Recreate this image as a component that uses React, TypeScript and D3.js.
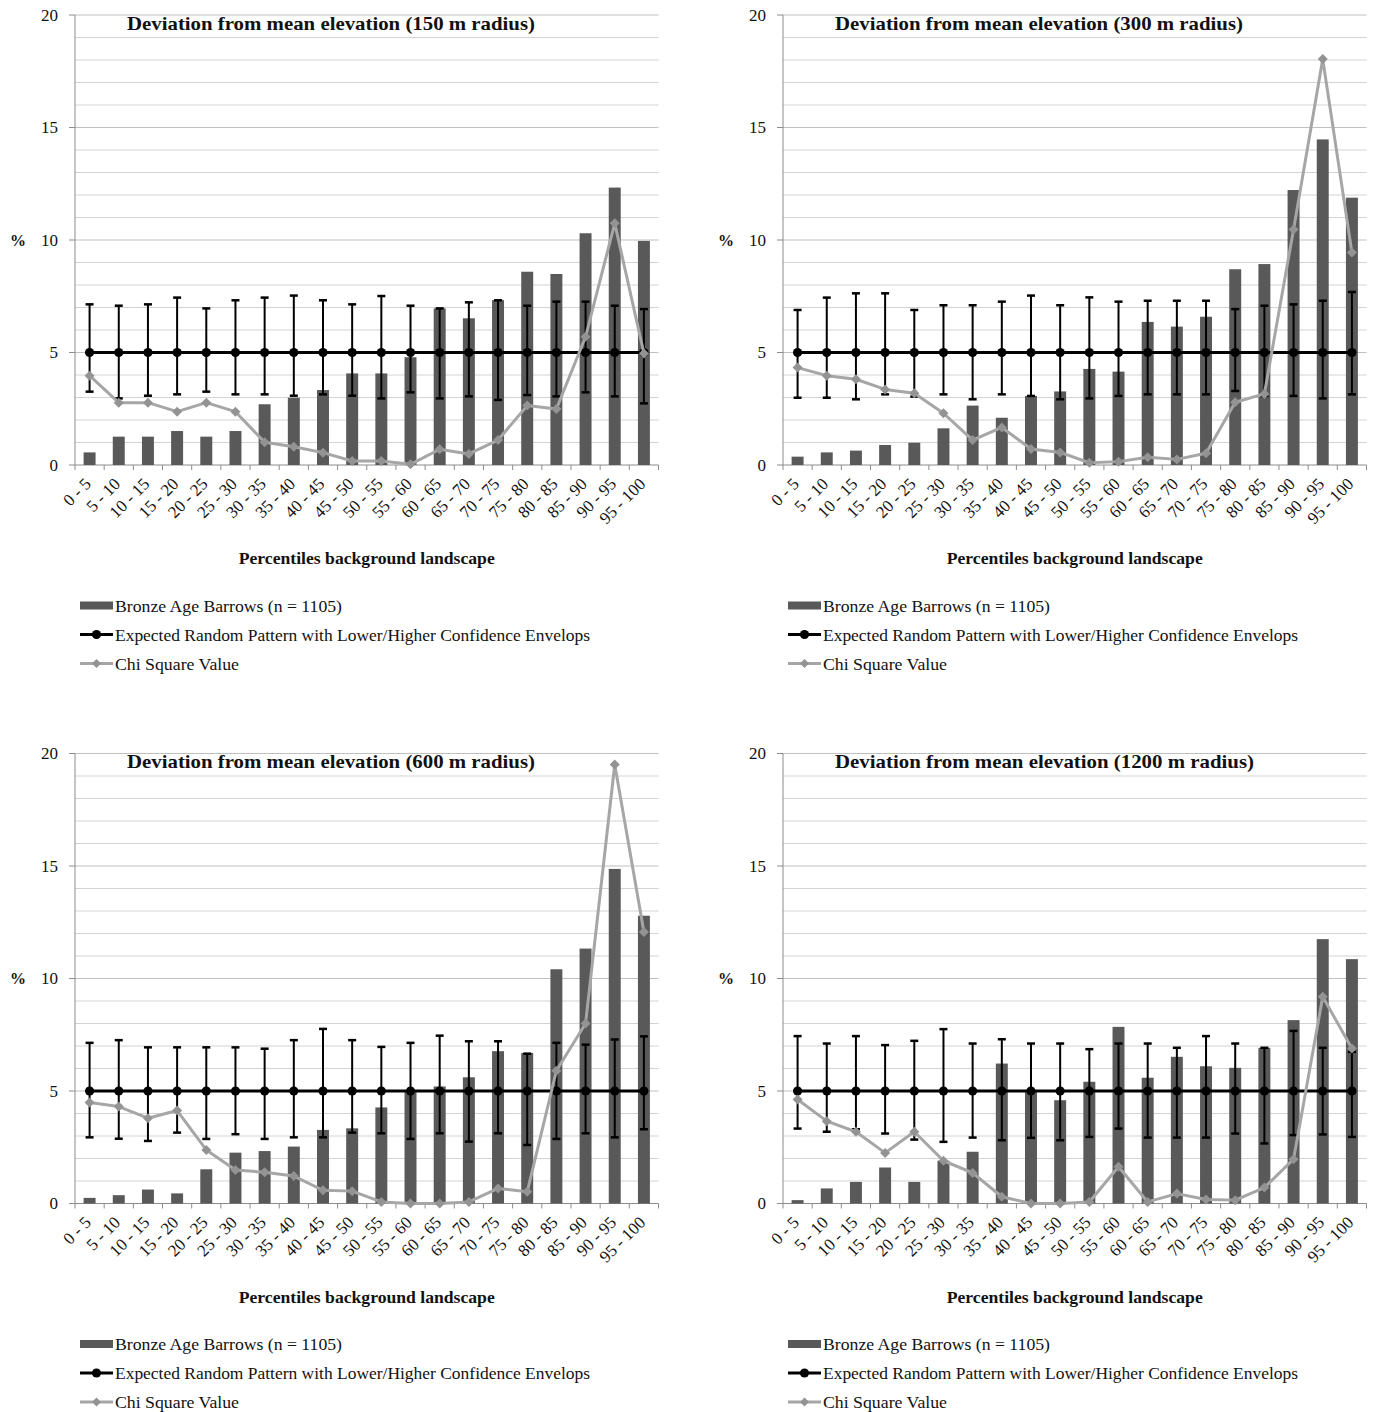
import React from 'react';
import * as d3 from 'd3';

const categories = [
  '0 - 5', '5 - 10', '10 - 15', '15 - 20', '20 - 25', '25 - 30', '30 - 35', '35 - 40', '40 - 45', '45 - 50',
  '50 - 55', '55 - 60', '60 - 65', '65 - 70', '70 - 75', '75 - 80', '80 - 85', '85 - 90', '90 - 95', '95 - 100',
];
const expected = [5, 5, 5, 5, 5, 5, 5, 5, 5, 5, 5, 5, 5, 5, 5, 5, 5, 5, 5, 5];
const yTicks = [0, 5, 10, 15, 20];

const titles = [
  'Deviation from mean elevation (150 m radius)',
  'Deviation from mean elevation (300 m radius)',
  'Deviation from mean elevation (600 m radius)',
  'Deviation from mean elevation (1200 m radius)',
];
const xAxisTitle = 'Percentiles background landscape';
const yAxisTitle = '%';
const legendLabels = [
  'Bronze Age Barrows (n = 1105)',
  'Expected Random Pattern with Lower/Higher Confidence Envelops',
  'Chi Square Value',
];

// 150 m radius
const bars150 = [0.56, 1.26, 1.26, 1.51, 1.26, 1.51, 2.7, 2.99, 3.33, 4.07, 4.07, 4.79, 6.96, 6.52, 7.33, 8.59, 8.49, 10.3, 12.33, 9.96];
const upper150 = [7.14, 7.08, 7.14, 7.44, 6.96, 7.32, 7.44, 7.53, 7.32, 7.14, 7.51, 7.08, 6.96, 7.23, 7.32, 7.08, 7.26, 7.26, 7.08, 6.93];
const lower150 = [3.26, 2.96, 3.08, 3.14, 3.26, 3.14, 3.14, 3.08, 3.14, 3.08, 2.96, 3.23, 2.96, 3.05, 2.89, 3.11, 3.05, 3.23, 3.05, 2.74];
const chi150 = [3.97, 2.77, 2.77, 2.37, 2.77, 2.37, 1.01, 0.81, 0.55, 0.18, 0.18, 0.03, 0.7, 0.49, 1.11, 2.64, 2.49, 5.7, 10.74, 4.96];

// 300 m radius
const bars300 = [0.37, 0.56, 0.64, 0.89, 0.99, 1.63, 2.64, 2.1, 3.07, 3.27, 4.27, 4.15, 6.36, 6.15, 6.59, 8.7, 8.93, 12.22, 14.47, 11.88];
const upper300 = [6.89, 7.44, 7.63, 7.63, 6.89, 7.1, 7.1, 7.26, 7.53, 7.1, 7.45, 7.26, 7.3, 7.3, 7.3, 6.93, 7.08, 7.14, 7.3, 7.69];
const lower300 = [2.99, 2.99, 2.92, 3.14, 3.04, 3.14, 2.92, 3.14, 3.07, 2.92, 2.96, 3.07, 3.14, 3.14, 3.14, 3.29, 3.07, 3.07, 2.96, 3.14];
const chi300 = [4.33, 3.97, 3.81, 3.36, 3.19, 2.3, 1.11, 1.67, 0.71, 0.56, 0.1, 0.15, 0.34, 0.25, 0.52, 2.79, 3.16, 10.47, 18.04, 9.44];

// 600 m radius
const bars600 = [0.25, 0.37, 0.62, 0.45, 1.52, 2.26, 2.33, 2.53, 3.27, 3.34, 4.27, 5.0, 5.2, 5.61, 6.77, 6.69, 10.41, 11.33, 14.87, 12.79];
const upper600 = [7.14, 7.26, 6.94, 6.94, 6.94, 6.94, 6.88, 7.26, 7.76, 7.26, 6.96, 7.14, 7.46, 7.21, 7.21, 6.66, 7.14, 7.06, 7.29, 7.43];
const lower600 = [2.94, 2.88, 2.78, 3.15, 2.87, 3.08, 2.87, 2.94, 2.94, 3.15, 3.12, 2.87, 3.12, 2.75, 3.12, 2.6, 2.87, 3.12, 2.94, 3.3];
const chi600 = [4.49, 4.31, 3.79, 4.13, 2.38, 1.49, 1.39, 1.22, 0.59, 0.55, 0.07, 0.0, 0.0, 0.07, 0.67, 0.52, 5.9, 8.0, 19.51, 12.07];

// 1200 m radius
const bars1200 = [0.15, 0.67, 0.96, 1.6, 0.96, 1.9, 2.3, 6.22, 4.95, 4.59, 5.41, 7.85, 5.59, 6.52, 6.1, 6.03, 6.92, 8.15, 11.75, 10.86];
const upper1200 = [7.44, 7.11, 7.44, 7.04, 7.23, 7.75, 7.11, 7.3, 7.11, 7.11, 6.86, 7.11, 7.11, 6.92, 7.44, 7.11, 6.92, 7.67, 6.92, 6.74];
const lower1200 = [3.33, 3.19, 3.3, 3.11, 2.84, 2.74, 2.93, 2.81, 2.92, 2.81, 2.96, 3.33, 2.93, 2.93, 2.93, 3.11, 2.67, 3.04, 3.07, 2.96];
const chi1200 = [4.62, 3.66, 3.19, 2.25, 3.19, 1.9, 1.36, 0.3, 0.0, 0.0, 0.07, 1.63, 0.07, 0.44, 0.18, 0.15, 0.71, 1.97, 9.19, 6.89];

const FONT = '"Liberation Serif", "Times New Roman", Times, serif';
const BAR_COLOR = '#595959';
const CHI_LINE = '#a6a6a6';
const CHI_MARK = '#939393';
const TEXT = '#111';

const diamond = (cx: number, cy: number, r: number) =>
  `M${cx},${cy - r}L${cx + r},${cy}L${cx},${cy + r}L${cx - r},${cy}Z`;

type PanelProps = {
  title: string;
  titleWidth: number;
  bars: number[];
  upper: number[];
  lower: number[];
  chi: number[];
  ox: number;
  oy: number;
};

function Panel({ title, titleWidth, bars, upper, lower, chi, ox, oy }: PanelProps) {
  const x0 = ox + 75;
  const x1 = ox + 658.5;
  const yTop = oy + 15;
  const yBot = oy + 465;
  const x = d3.scaleBand<string>().domain(categories).range([x0, x1]).paddingInner(0).paddingOuter(0);
  const y = d3.scaleLinear().domain([0, 20]).range([yBot, yTop]);
  const bw = x.bandwidth();
  const cx = (i: number) => (x(categories[i]) as number) + bw / 2;
  const barW = bw * 0.41;

  const minor = d3.range(1, 21);
  const lineGen = d3
    .line<number>()
    .x((_, i) => cx(i))
    .y((d) => y(d));

  const legendY = [oy + 605.5, oy + 634.5, oy + 663.5];
  const legendW = [227, 475, 124];
  const lx = ox + 80;

  return (
    <g>
      {minor.map((v) => (
        <line
          key={'g' + v}
          x1={x0}
          x2={x1}
          y1={y(v)}
          y2={y(v)}
          stroke={v % 5 === 0 ? '#c0c0c0' : '#d3d3d3'}
          strokeWidth={1.2}
        />
      ))}
      <line x1={x0} x2={x0} y1={yTop} y2={yBot} stroke="#8c8c8c" strokeWidth={1} />
      {yTicks.map((t) => (
        <g key={'yt' + t}>
          <line x1={x0 - 6} x2={x0} y1={y(t)} y2={y(t)} stroke="#8c8c8c" strokeWidth={1} />
          <text x={ox + 58} y={y(t)} dy="0.35em" textAnchor="end" fontFamily={FONT} fontSize={17} fill={TEXT}>
            {t}
          </text>
        </g>
      ))}
      <text x={ox + 18} y={y(10)} dy="0.35em" textAnchor="middle" fontFamily={FONT} fontSize={16} fontWeight="bold" fill={TEXT}>
        {yAxisTitle}
      </text>
      <line x1={x0} x2={x1} y1={yBot} y2={yBot} stroke="#8c8c8c" strokeWidth={1} />
      {d3.range(0, categories.length + 1).map((i) => {
        const xx = x0 + i * bw;
        return <line key={'xt' + i} x1={xx} x2={xx} y1={yBot} y2={yBot + 5} stroke="#8c8c8c" strokeWidth={1} />;
      })}
      {categories.map((c, i) => (
        <text
          key={'xl' + c}
          transform={`translate(${cx(i) + 2.5},${yBot + 20}) rotate(-45)`}
          textAnchor="end"
          fontFamily={FONT}
          fontSize={17}
          fill={TEXT}
        >
          {c}
        </text>
      ))}
      {bars.map((v, i) => (
        <rect key={'b' + i} x={cx(i) - barW / 2} y={y(v)} width={barW} height={yBot - y(v)} fill={BAR_COLOR} />
      ))}
      {expected.map((_, i) => (
        <g key={'e' + i} stroke="#000">
          <line x1={cx(i)} x2={cx(i)} y1={y(upper[i])} y2={y(lower[i])} strokeWidth={2} />
          <line x1={cx(i) - 4} x2={cx(i) + 4} y1={y(upper[i])} y2={y(upper[i])} strokeWidth={2.5} />
          <line x1={cx(i) - 4} x2={cx(i) + 4} y1={y(lower[i])} y2={y(lower[i])} strokeWidth={2.5} />
        </g>
      ))}
      <path d={lineGen(expected) || ''} fill="none" stroke="#000" strokeWidth={3} />
      {expected.map((v, i) => (
        <circle key={'c' + i} cx={cx(i)} cy={y(v)} r={4.6} fill="#000" />
      ))}
      <path d={lineGen(chi) || ''} fill="none" stroke={CHI_LINE} strokeWidth={3} strokeLinejoin="round" />
      {chi.map((v, i) => (
        <path key={'d' + i} d={diamond(cx(i), y(v), 5)} fill={CHI_MARK} />
      ))}
      <text
        x={ox + 127}
        y={yTop + 14.5}
        fontFamily={FONT}
        fontSize={19}
        fontWeight="bold"
        fill={TEXT}
        textLength={titleWidth}
        lengthAdjust="spacingAndGlyphs"
      >
        {title}
      </text>
      <text
        x={(x0 + x1) / 2}
        y={oy + 564}
        textAnchor="middle"
        fontFamily={FONT}
        fontSize={16}
        fontWeight="bold"
        fill={TEXT}
        textLength={256}
        lengthAdjust="spacingAndGlyphs"
      >
        {xAxisTitle}
      </text>
      <rect x={lx} y={legendY[0] - 4} width={33} height={8} fill={BAR_COLOR} />
      <line x1={lx} x2={lx + 33} y1={legendY[1]} y2={legendY[1]} stroke="#000" strokeWidth={3} />
      <circle cx={lx + 16.5} cy={legendY[1]} r={4.6} fill="#000" />
      <line x1={lx} x2={lx + 33} y1={legendY[2]} y2={legendY[2]} stroke={CHI_LINE} strokeWidth={3} />
      <path d={diamond(lx + 16.5, legendY[2], 4.5)} fill={CHI_MARK} />
      {legendLabels.map((l, i) => (
        <text
          key={'lg' + i}
          x={ox + 115}
          y={legendY[i] + 6}
          fontFamily={FONT}
          fontSize={17}
          fill={TEXT}
          textLength={legendW[i]}
          lengthAdjust="spacingAndGlyphs"
        >
          {l}
        </text>
      ))}
    </g>
  );
}

export default function App() {
  const panels = [
    { title: titles[0], titleWidth: 408, bars: bars150, upper: upper150, lower: lower150, chi: chi150, ox: 0, oy: 0 },
    { title: titles[1], titleWidth: 408, bars: bars300, upper: upper300, lower: lower300, chi: chi300, ox: 708, oy: 0 },
    { title: titles[2], titleWidth: 408, bars: bars600, upper: upper600, lower: lower600, chi: chi600, ox: 0, oy: 738.5 },
    { title: titles[3], titleWidth: 419, bars: bars1200, upper: upper1200, lower: lower1200, chi: chi1200, ox: 708, oy: 738.5 },
  ];
  return (
    <svg
      width={1375}
      height={1412}
      viewBox="0 0 1375 1412"
      style={{ position: 'absolute', left: 0, top: 0, display: 'block', background: '#fff' }}
    >
      <rect x={0} y={0} width={1375} height={1412} fill="#fff" />
      {panels.map((p, i) => (
        <Panel key={i} {...p} />
      ))}
    </svg>
  );
}
